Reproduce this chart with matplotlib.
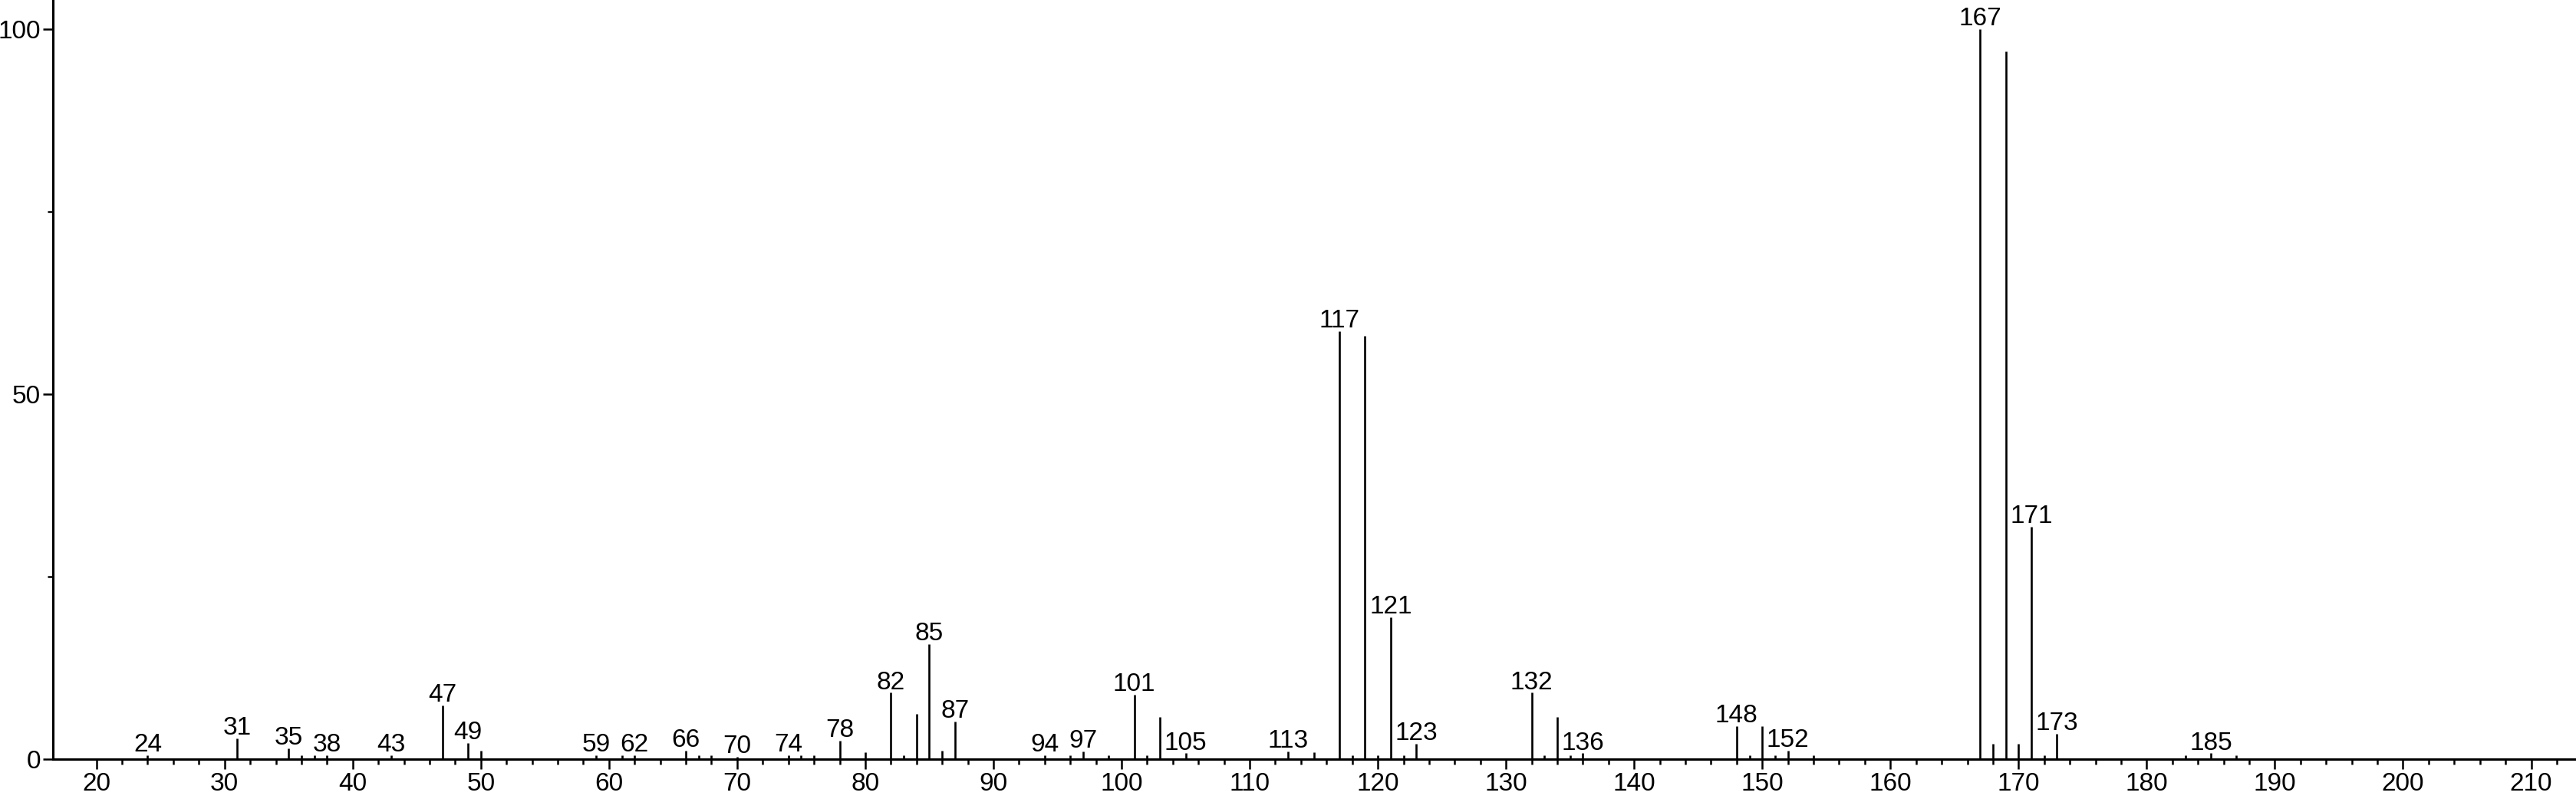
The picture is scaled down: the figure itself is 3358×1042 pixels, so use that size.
import matplotlib
matplotlib.use('Agg')
import matplotlib.pyplot as plt
from matplotlib.ticker import FixedLocator, MultipleLocator
import numpy as np

plt.rcParams['font.family'] = ['Liberation Sans', 'DejaVu Sans']

# m/z and relative intensity of each peak
mz = [24, 31, 35, 36, 37, 38, 43, 47, 49, 50,
      59, 61, 62, 66, 67, 68, 70, 74, 75, 76,
      78, 80, 82, 83, 84, 85, 86, 87,
      94, 96, 97, 99, 101, 102, 103, 105,
      113, 115, 117, 118, 119, 120, 121, 122, 123,
      132, 133, 134, 135, 136,
      148, 149, 150, 151, 152, 154,
      167, 168, 169, 170, 171, 172, 173,
      183, 185, 187]
intensity = [0.5, 2.8, 1.5, 0.5, 0.5, 0.5, 0.5, 7.4, 2.2, 1.2,
             0.5, 0.5, 0.5, 1.2, 0.5, 0.5, 0.3, 0.5, 0.5, 0.5,
             2.5, 0.9, 9.1, 0.5, 6.2, 15.8, 1.2, 5.2,
             0.5, 0.5, 1.1, 0.5, 8.8, 0.5, 5.8, 0.8,
             1.1, 0.9, 58.6, 0.5, 58.0, 0.5, 19.4, 0.5, 2.1,
             9.1, 0.5, 5.8, 0.5, 0.8,
             4.5, 0.5, 4.5, 0.5, 1.2, 0.5,
             100.0, 2.1, 97.0, 2.1, 31.8, 0.5, 3.5,
             0.5, 0.8, 0.5]

# peaks that carry a label
labelled = [24, 31, 35, 38, 43, 47, 49, 59, 62, 66, 70, 74, 78, 82, 85, 87,
            94, 97, 101, 105, 113, 117, 121, 123, 132, 136, 148, 152,
            167, 171, 173, 185]

fig = plt.figure(figsize=(33.58, 10.42), dpi=100)
ax = fig.add_axes([0.0205, 0.0499, 0.9795, 0.9501])

ax.vlines(mz, 0, intensity, colors='black', linewidth=1.9)

lookup = dict(zip(mz, intensity))
for m in labelled:
    ax.annotate(str(m), (m, lookup[m]), xytext=(0, 3.5), textcoords='offset points',
                ha='center', va='baseline', fontsize=24)

ax.set_xlim(16.6, 213.5)
ax.set_ylim(0, 104)

ax.xaxis.set_major_locator(FixedLocator(np.arange(20, 211, 10)))
ax.xaxis.set_minor_locator(FixedLocator(np.arange(20, 213, 2)))
ax.yaxis.set_major_locator(MultipleLocator(50))
ax.yaxis.set_minor_locator(FixedLocator([25, 75]))

for s in ['top', 'right']:
    ax.spines[s].set_visible(False)
for s in ['left', 'bottom']:
    ax.spines[s].set_linewidth(2.2)

ax.tick_params(axis='both', which='major', direction='out', length=9.5, width=1.8,
               labelsize=24, pad=2)
ax.tick_params(axis='both', which='minor', direction='out', length=5, width=1.8)
ax.tick_params(axis='x', which='major', pad=3)

fig.savefig('out.png', dpi=100)
